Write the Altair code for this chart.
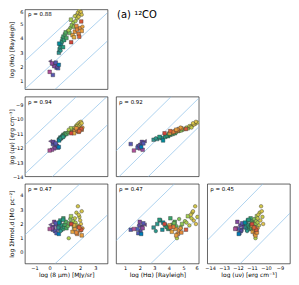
import altair as alt
import pandas as pd

# ---------------- data ----------------
ir8 = [0.21, 0.03, 0.25, 0.35, 0.45, 0.55, 0.30, 0.15, 0.50, 0.00, 0.40, 0.60,
       0.60, 0.65, 0.70, 0.75, 0.80, 0.62, 0.85, 0.90, 0.95, 1.00, 1.05, 0.72, 1.10, 0.88, 1.20, 1.30,
       1.35, 1.45, 1.55, 1.40, 1.60, 1.70,
       1.75, 1.85, 1.95, 2.00, 1.80, 1.90, 2.05, 1.65, 1.25, 2.10,
       1.50, 1.65, 1.80, 1.90, 2.00, 2.10, 1.60, 1.75, 2.15,
       1.41, 2.07, 1.94]
halpha = [1.38, 2.35, 2.15, 2.05, 1.90, 1.85, 2.00, 2.20, 1.95, 1.60, 2.25, 2.10,
          2.95, 3.20, 3.40, 3.55, 3.75, 3.60, 3.95, 4.10, 3.85, 4.25, 4.40, 3.10, 4.00, 3.35, 4.50, 4.35,
          4.70, 4.90, 5.10, 5.30, 4.80, 5.20,
          5.60, 5.80, 5.95, 5.70, 5.40, 5.50, 5.85, 5.55, 4.55, 5.65,
          4.20, 4.45, 4.60, 4.30, 4.70, 4.50, 4.05, 4.85, 4.80,
          3.70, 5.17, 4.09]
u_nu = [-11.75, -11.55, -11.60, -11.80, -11.90, -12.00, -12.05, -12.15, -11.85, -12.20, -11.70, -11.95,
        -11.45, -11.40, -11.30, -11.35, -11.25, -11.50, -11.20, -11.10, -11.15, -11.05, -11.00, -11.35, -11.05, -11.25, -10.95, -10.90,
        -10.85, -10.75, -10.70, -10.65, -10.80, -10.60,
        -10.45, -10.35, -10.25, -10.40, -10.50, -10.55, -10.20, -10.60, -10.75, -10.30,
        -10.95, -10.85, -10.80, -10.90, -10.70, -10.75, -11.00, -10.65, -10.60,
        -11.00, -10.70, -10.85]
sigma = [1.55, 1.90, 1.75, 1.45, 1.30, 1.60, 2.10, 1.65, 1.85, 1.60, 2.00, 1.25,
         1.70, 1.95, 2.20, 1.55, 1.85, 2.05, 1.60, 2.35, 1.75, 1.90, 2.10, 1.45, 1.65, 2.25, 1.80, 2.00,
         2.30, 1.95, 2.15, 2.50, 1.70, 2.05,
         2.75, 3.20, 2.45, 2.20, 1.85, 2.60, 1.95, 2.35, 0.95, 2.85,
         1.40, 1.60, 1.25, 1.75, 1.50, 1.15, 1.85, 1.35, 1.65,
         1.95, 1.55, 1.70]
cval = [0.20, 0.10, 0.12, 0.18, 0.22, 0.25, 0.08, 0.05, 0.15, 0.00, 0.20, 0.30,
        0.38, 0.40, 0.42, 0.36, 0.44, 0.35, 0.46, 0.48, 0.45, 0.50, 0.52, 0.40, 0.50, 0.43, 0.55, 0.56,
        0.58, 0.60, 0.62, 0.63, 0.60, 0.65,
        0.70, 0.72, 0.70, 0.74, 0.68, 0.72, 0.75, 0.69, 0.65, 0.73,
        0.82, 0.85, 0.88, 0.90, 0.86, 0.84, 0.80, 0.87, 0.83,
        1.00, 0.97, 0.95]
marker = ['s', 't', 's', 's', 's', 's', 's', 's', 'o', 's', 's', 's',
          's', 's', 's', 's', 's', 's', 's', 's', 's', 's', 's', 'o', 's', 's', 'o', 's',
          'o', 's', 'o', 's', 's', 'o',
          'o', 'o', 'o', 'o', 'o', 'o', 'o', 'o', 'o', 'o',
          's', 's', 's', 's', 's', 's', 's', 's', 'o',
          's', 's', 's']

rho = ['0.88', '0.94', '0.92', '0.47', '0.47', '0.45']
title_text = ['(a) ¹²CO']

ticks_ir8 = [-1, 0, 1, 2, 3]
ticks_ha = [1, 2, 3, 4, 5, 6]
ticks_u = [-14, -13, -12, -11, -10, -9]
ticks_sig = [0, 1, 2, 3, 4]

# diagonal reference lines: y = x + offset
off_ha_ir8 = [4.0, 2.0, 0.0]
off_u_ir8 = [-10.2, -12.2, -14.2]
off_u_ha = [-12.6, -14.6, -16.6]
off_sig_ir8 = [2.8, -1.2]
off_sig_ha = [0.4, -3.6]
off_sig_u = [15.0, 11.0]

lab_ir8 = 'log (8 μm) [MJy/sr]'
lab_ha = 'log (Hα) [Rayleigh]'
lab_u = 'log (uν) [erg cm⁻³]'
lab_sig = 'log ΣHmol,d [M⊙ pc⁻²]'

# ---------------- styling ----------------
FONT = 'DejaVu Sans'
W, H = 83, 80
cmap_dom = [0, 0.125, 0.25, 0.375, 0.5, 0.625, 0.75, 0.875, 1.0]
cmap = ['#b0509a', '#6247a0', '#4d62bd', '#33918f', '#47a862', '#a3cf52', '#dfc24c', '#e98c3c', '#d2463a']
LINE_COLOR = '#8cc0e8'

xdom = {'ir8': [-1.62, 3.8], 'ha': [0.38, 6.05], 'u': [-14.2, -8.28]}
ydom = {'ha': [0.37, 6.02], 'u': [-14.0, -8.45], 'sig': [-0.84, 4.78]}
ticks = {'ir8': ticks_ir8, 'ha': ticks_ha, 'u': ticks_u, 'sig': ticks_sig}
labels = {'ir8': lab_ir8, 'ha': lab_ha, 'u': lab_u, 'sig': lab_sig}

df = pd.DataFrame({'ir8': ir8, 'ha': halpha, 'u': u_nu, 'sig': sigma, 'c': cval, 'm': marker})


def x_axis(var, show):
    if not show:
        return None
    return alt.Axis(values=ticks[var], title=labels[var], format='d', grid=False, domain=False,
                    ticks=False, labelFontSize=5, titleFontSize=6, labelPadding=1.5, titlePadding=1,
                    labelFont=FONT, titleFont=FONT, titleFontWeight='normal',
                    labelColor='#000', titleColor='#000')


def y_axis(var, show, flush=False):
    if not show:
        return None
    return alt.Axis(values=ticks[var], title=labels[var], format='d', grid=False, domain=False,
                    ticks=False, labelFontSize=5, titleFontSize=6, labelPadding=2, titlePadding=1,
                    minExtent=9, maxExtent=9, labelFlush=flush,
                    labelFont=FONT, titleFont=FONT, titleFontWeight='normal',
                    labelColor='#000', titleColor='#000')


def panel(xv, yv, offsets, rho_txt, showx, showy, flush=False):
    xs = alt.Scale(domain=xdom[xv], nice=False, zero=False)
    ys = alt.Scale(domain=ydom[yv], nice=False, zero=False)
    xa = x_axis(xv, showx)
    ya = y_axis(yv, showy, flush)
    rows = []
    for k, c in enumerate(offsets):
        for xe in xdom[xv]:
            rows.append({'lx': xe, 'ly': xe + c, 'g': k})
    ldf = pd.DataFrame(rows)
    lines = alt.Chart(ldf).mark_line(clip=True, color=LINE_COLOR, strokeWidth=0.7).encode(
        x=alt.X('lx:Q', scale=xs, axis=xa),
        y=alt.Y('ly:Q', scale=ys, axis=ya),
        detail='g:N')
    pts = alt.Chart(df).mark_point(filled=True, size=13, stroke='#333', strokeWidth=0.4,
                                   opacity=1, clip=True).encode(
        x=alt.X(xv + ':Q', scale=xs, axis=xa),
        y=alt.Y(yv + ':Q', scale=ys, axis=ya),
        color=alt.Color('c:Q', scale=alt.Scale(domain=cmap_dom, range=cmap), legend=None),
        shape=alt.Shape('m:N', scale=alt.Scale(domain=['s', 'o', 't'],
                                               range=['square', 'circle', 'triangle-left']),
                        legend=None))
    txt = alt.Chart(pd.DataFrame({'t': ['ρ = ' + rho_txt]})).mark_text(
        align='left', baseline='middle', fontSize=5.5, font=FONT, color='#000').encode(
        x=alt.value(3), y=alt.value(5), text='t:N')
    return alt.layer(lines, pts, txt).properties(width=W, height=H)


def blank():
    return alt.Chart(pd.DataFrame({'t': ['']})).mark_text().encode(text='t:N').properties(
        width=W, height=H, view=alt.ViewBackground(stroke='transparent'))


tcell = alt.Chart(pd.DataFrame({'t': title_text})).mark_text(
    align='left', baseline='top', fontSize=10, font=FONT, color='#000').encode(
    x=alt.value(1), y=alt.value(1), text='t:N').properties(
    width=W, height=H, view=alt.ViewBackground(stroke='transparent'))

p11 = panel('ir8', 'ha', off_ha_ir8, rho[0], False, True, flush=True)
p21 = panel('ir8', 'u', off_u_ir8, rho[1], False, True)
p22 = panel('ha', 'u', off_u_ha, rho[2], False, False)
p31 = panel('ir8', 'sig', off_sig_ir8, rho[3], True, True)
p32 = panel('ha', 'sig', off_sig_ha, rho[4], True, False)
p33 = panel('u', 'sig', off_sig_u, rho[5], True, False)

chart = alt.concat(p11, tcell, blank(), p21, p22, blank(), p31, p32, p33,
                   columns=3, spacing={'row': 7.5, 'column': 8.5}, bounds='flush').properties(
    padding=0).configure_view(stroke='#222', strokeWidth=0.7)

chart.save("out.html", embed_options={"renderer": "svg", "actions": False})
